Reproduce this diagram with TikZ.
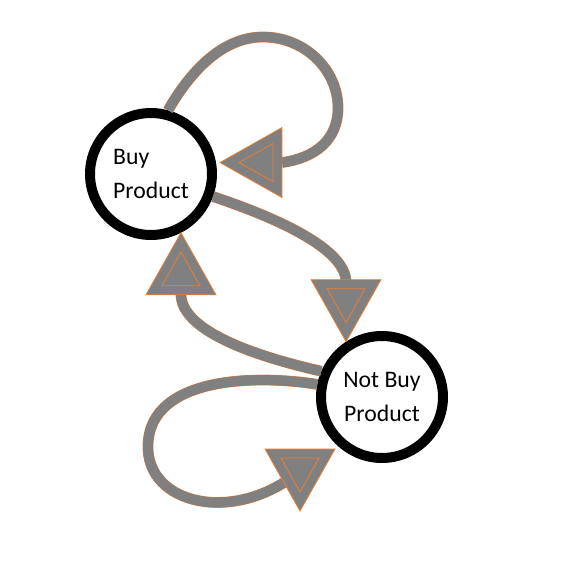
\documentclass[tikz,border=0pt]{standalone}
\usepackage{fontspec}
\setmainfont{Carlito}
\usetikzlibrary{calc}

\definecolor{linkgray}{RGB}{128,128,128}
\definecolor{linkorange}{RGB}{237,125,49}

\tikzset{
  state/.style={circle,draw=black,line width=0.2cm,minimum size=2.44cm,
    inner sep=0pt,font=\fontsize{13.5}{19.8}\selectfont},
  link/.style={draw=linkgray,line width=0.2cm,
    preaction={draw=linkorange,line width=0.215cm}},
  head/.pic={
    \filldraw[fill=linkgray,draw=linkorange,line width=0.45pt]
      (0,0) -- (-62,35) -- (-62,-35) -- cycle;
    \draw[linkorange,line width=0.45pt] (-19,0) -- (-53,19) -- (-53,-19) -- cycle;
  }
}

\begin{document}
\begin{tikzpicture}[x=0.02cm,y=-0.02cm]
        \useasboundingbox (0,0) rectangle (563,563);
        \node[state,align=left] (buy) at (151,174) {Buy\\Product};
        \node[state,align=center] (notbuy) at (382,397) {Not Buy\\Product};
        % tips of the heads
        \path (buy.10) ++(4,0) coordinate (tip1);
        \coordinate (tip2) at (notbuy.123);
        \coordinate (tip3) at (buy.-63);
        \coordinate (tip4) at (300,511);
        % buy -> buy
        \draw[link] (buy.75) .. controls (190,72) and (222,37) .. (263,37)
          .. controls (305,37) and (338,70) .. (338,108)
          .. controls (338,140) and (315,158) .. ($(tip1)+(62,0)$);
        % buy -> not buy
        \draw[link] (buy.-20) .. controls (262,213) and (345,245) .. ($(tip2)+(0,-60)$);
        % not buy -> buy
        \draw[link] (notbuy.157) .. controls (250,355) and (182,330) .. ($(tip3)+(0,62)$);
        % not buy -> not buy
        \draw[link] (notbuy.169) .. controls (260,375) and (150,375) .. (148,445)
          .. controls (146,505) and (235,525) .. ($(tip4)+(0,-40)$);
        \pic[rotate=180] at (tip1) {head};
        \pic[rotate=-90] at (tip2) {head};
        \pic[rotate=90] at (tip3) {head};
        \pic[rotate=-90] at (tip4) {head};
\end{tikzpicture}
\end{document}
